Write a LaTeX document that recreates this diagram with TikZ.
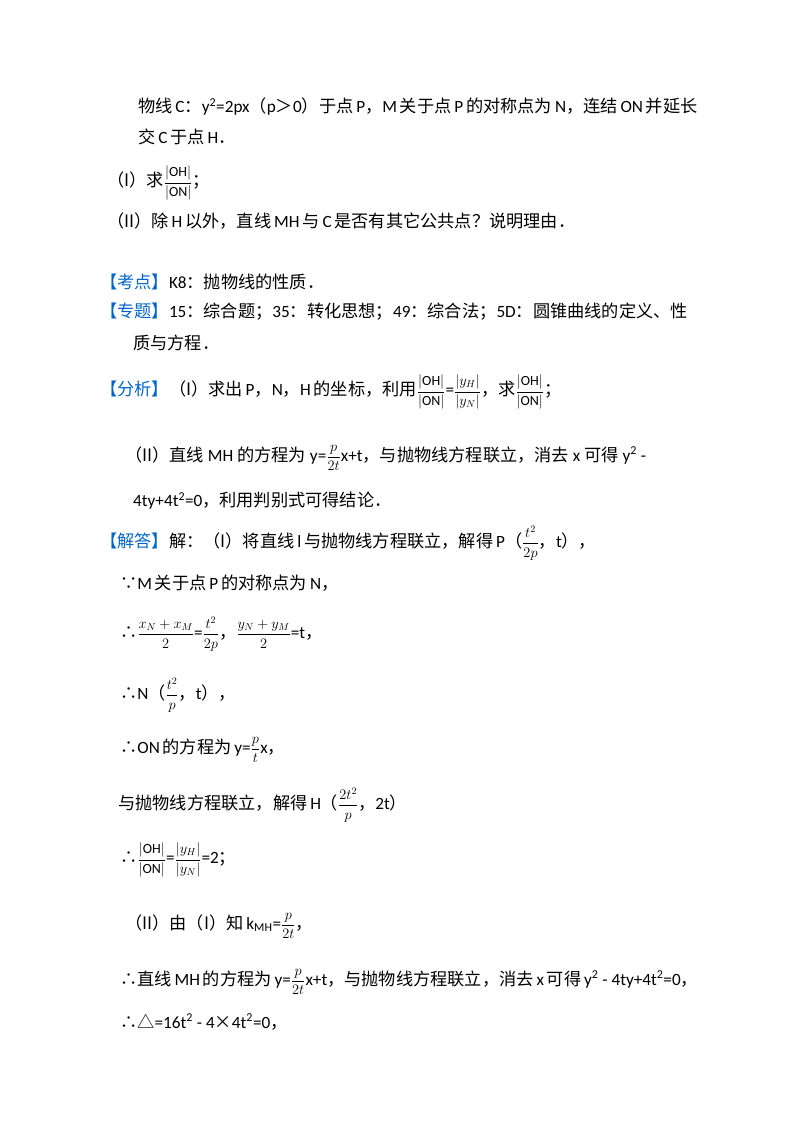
\documentclass[tikz,border=0pt]{standalone}
\usepackage{fontspec}
\usepackage{amsmath}
\setmainfont{Carlito}
\newfontfamily\cjk{Noto Sans CJK SC}
\definecolor{kblue}{RGB}{0,102,204}
\newcommand{\zh}[1]{{\cjk #1}}
\newcommand{\fr}[2]{{\fontsize{14}{16}\selectfont$\dfrac{#1}{#2}$}}
\begin{document}
\begin{tikzpicture}[x=1pt,y=-1pt,
  ln/.style={anchor=west,inner sep=0pt,font=\fontsize{17.2}{20}\selectfont}]
\useasboundingbox (0,0) rectangle (800,1132);
\node[ln] (l1) at (138,107) {\zh{物线}\,C\zh{：}y\textsuperscript{2}=2px\zh{（}p\zh{＞}0\zh{）于点}\,P\zh{，}M\,\zh{关于点}\,P\,\zh{的对称点为}\,N\zh{，连结}\,ON\,\zh{并延长}};
\node[ln] (l2) at (138,137) {\zh{交}\,C\,\zh{于点}\,H\zh{．}};
\node[ln] (l3) at (107,183) {\zh{（I）求}\fr{|\mathrm{OH}|}{|\mathrm{ON}|}\zh{；}};
\node[ln] (l4) at (107,221) {\zh{（II）除}\,H\,\zh{以外，直线}\,MH\,\zh{与}\,C\,\zh{是否有其它公共点？说明理由．}};
\node[ln] (l5) at (100,282) {\zh{\textcolor{kblue}{【考点】}}K8\zh{：抛物线的性质．}};
\node[ln] (l6) at (100,312) {\zh{\textcolor{kblue}{【专题】}}15\zh{：综合题；}35\zh{：转化思想；}49\zh{：综合法；}5D\zh{：圆锥曲线的定义、性}};
\node[ln] (l7) at (133,343) {\zh{质与方程．}};
\node[ln] (l8) at (100,392) {\zh{\textcolor{kblue}{【分析】}（I）求出}\,P\zh{，}N\zh{，}H\,\zh{的坐标，利用}\fr{|\mathrm{OH}|}{|\mathrm{ON}|}=\fr{|y_H|}{|y_N|}\zh{，求}\fr{|\mathrm{OH}|}{|\mathrm{ON}|}\zh{；}};
\node[ln] (l9) at (125,458) {\zh{（II）直线} MH \zh{的方程为} y=\fr{p}{2t}x+t\zh{，与抛物线方程联立，消去} x \zh{可得} y\textsuperscript{2} -};
\node[ln] (l10) at (133,501) {4ty+4t\textsuperscript{2}=0\zh{，利用判别式可得结论．}};
\node[ln] (l11) at (100,543) {\zh{\textcolor{kblue}{【解答】}解：（I）将直线}\,l\,\zh{与抛物线方程联立，解得}\,P\zh{（}\fr{t^2}{2p}\zh{，}t\zh{），}};
\node[ln] (l12) at (120,583) {\zh{∵}M\,\zh{关于点}\,P\,\zh{的对称点为}\,N\zh{，}};
\node[ln] (l13) at (120,634) {\zh{∴}\fr{x_N+x_M}{2}=\fr{t^2}{2p}\zh{，}\fr{y_N+y_M}{2}=t\zh{，}};
\node[ln] (l14) at (120,695) {\zh{∴}N\zh{（}\fr{t^2}{p}\zh{，}t\zh{），}};
\node[ln] (l15) at (120,750) {\zh{∴}ON\,\zh{的方程为}\,y=\fr{p}{t}x\zh{，}};
\node[ln] (l16) at (118,805) {\zh{与抛物线方程联立，解得}\,H\zh{（}\fr{2t^2}{p}\zh{，}2t\zh{）}};
\node[ln] (l17) at (120,860) {\zh{∴}\fr{|\mathrm{OH}|}{|\mathrm{ON}|}=\fr{|y_H|}{|y_N|}=2\zh{；}};
\node[ln] (l18) at (125,926) {\zh{（II）由（I）知}\,k\textsubscript{MH}=\fr{p}{2t}\zh{，}};
\node[ln] (l19) at (120,982) {\zh{∴直线}\,MH\,\zh{的方程为}\,y=\fr{p}{2t}x+t\zh{，与抛物线方程联立，消去}\,x\,\zh{可得}\,y\textsuperscript{2} - 4ty+4t\textsuperscript{2}=0\zh{，}};
\node[ln] (l20) at (120,1022) {\zh{∴△}=16t\textsuperscript{2} - 4\zh{×}4t\textsuperscript{2}=0\zh{，}};
\end{tikzpicture}
\end{document}
